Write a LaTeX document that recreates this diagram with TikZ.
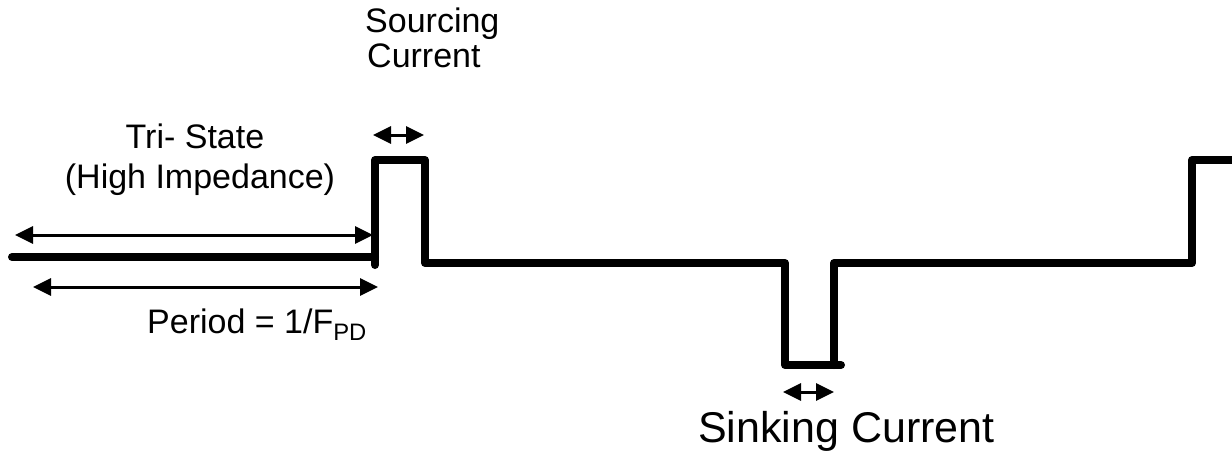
\documentclass[tikz,border=0pt]{standalone}
\usepackage{fontspec}
\setmainfont{Liberation Sans}
\usetikzlibrary{arrows.meta}
\begin{document}
\begin{tikzpicture}[x=1pt,y=-1pt,
  sig/.style={line width=8pt,line cap=round,line join=round},
  dim/.style={line width=3pt,{Triangle[length=18pt,width=17pt]}-{Triangle[length=18pt,width=17pt]}},
  lbl/.style={font=\fontsize{34}{40}\selectfont,inner sep=0pt},
  big/.style={font=\fontsize{43}{50}\selectfont,inner sep=0pt}]
\useasboundingbox (0,0) rectangle (1232,450);
% signal
\draw[sig] (12,257) -- (375,257);
\draw[sig] (375,265) -- (375,160) -- (425,160) -- (425,263) -- (785,263) -- (785,365) -- (841,365);
\draw[sig] (834,365) -- (834,263) -- (1192,263) -- (1192,160) -- (1245,160);
% dimension coordinates
\coordinate (tl) at (15,235);  \coordinate (tr) at (373,235);
\coordinate (bl) at (33,287);  \coordinate (br) at (378,287);
\coordinate (sl) at (373,135); \coordinate (sr) at (424,135);
\coordinate (kl) at (783,392); \coordinate (kr) at (834,392);
\draw[dim] (tl) -- (tr);
\draw[dim] (bl) -- (br);
\draw[dim] (sl) -- (sr);
\draw[dim] (kl) -- (kr);
% labels
\node[lbl,anchor=base west] (src1) at (365,32) {Sourcing};
\node[lbl,anchor=base west] (src2) at (367,67) {Current};
\node[lbl,anchor=base] (tri1) at (195,148) {Tri- State};
\node[lbl,anchor=base] (tri2) at (200,188) {(High Impedance)};
\node[lbl,anchor=base west] (per) at (147,333) {Period = 1/F\textsubscript{PD}};
\node[big,anchor=base west] (sink) at (698,442) {Sinking Current};
\end{tikzpicture}
\end{document}
